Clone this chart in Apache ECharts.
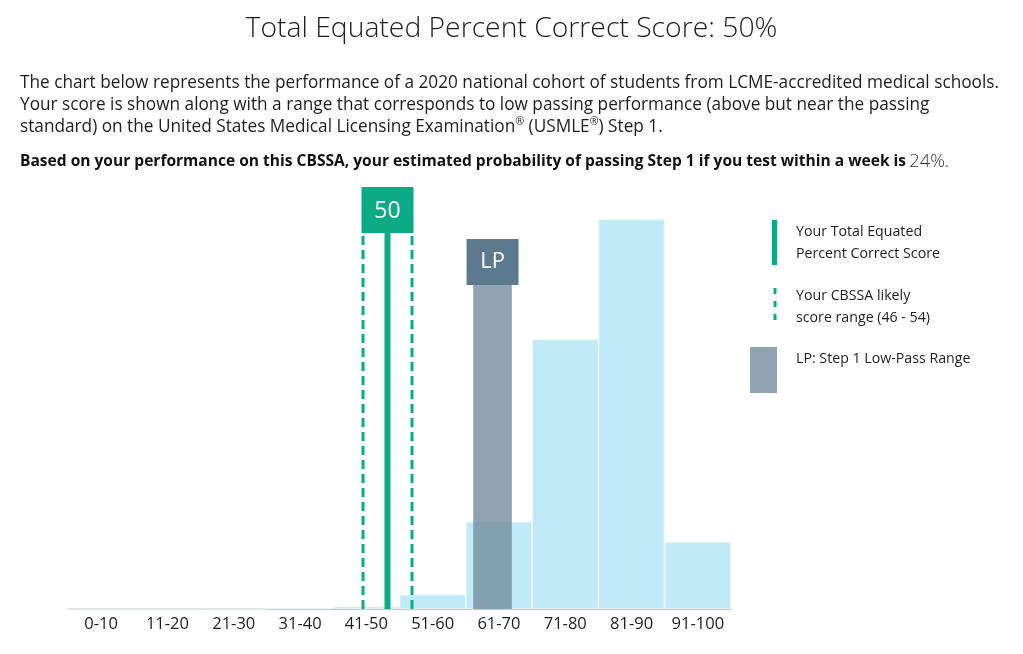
<!DOCTYPE html>
<html>
<head>
<meta charset="utf-8">
<script src="https://cdn.jsdelivr.net/npm/echarts@6/dist/echarts.min.js"></script>
<style>
html,body{margin:0;padding:0;background:#fff;}
#chart{width:1023px;height:654px;}
</style>
</head>
<body>
<div id="chart"></div>
<script>
// ---- data ----
const categories = ['0-10','11-20','21-30','31-40','41-50','51-60','61-70','71-80','81-90','91-100'];
const cohortPercent = [0, 0, 0, 0.1, 0.3, 1.7, 10.4, 32.1, 46.4, 8.0];
const yourScore = 50;
const scoreRange = [46, 54];
const lowPassRange = [64, 70.3];
const titleText = 'Total Equated Percent Correct Score: 50%';
const bodyLines = [
  'The chart below represents the performance of a 2020 national cohort of students from LCME-accredited medical schools.',
  'Your score is shown along with a range that corresponds to low passing performance (above but near the passing',
  'standard) on the United States Medical Licensing Examination\u00AE (USMLE\u00AE) Step 1.'
];
const boldText = 'Based on your performance on this CBSSA, your estimated probability of passing Step 1 if you test within a week is';
const probText = '24%.';
const legendTexts = [
  ['Your Total Equated', 'Percent Correct Score'],
  ['Your CBSSA likely', 'score range (46 - 54)'],
  ['LP: Step 1 Low-Pass Range']
];

// ---- styling ----
const FONT = 'Open Sans';
const GREEN = '#0cab86';
const BAR = '#c1eaf8';
const LPBOX = '#5c7a8e';
const TEXT = '#1e1e1e';

const mctx = document.createElement('canvas').getContext('2d');
function fit(text, weight, target) {
  mctx.font = weight + ' 100px "' + FONT + '"';
  return 100 * target / mctx.measureText(text).width;
}
const titleSize = fit(titleText, '300', 532);
const bodySize = fit(bodyLines[0], 'normal', 980);
const boldSize = fit(boldText, 'bold', 887);
const legendSize = fit(legendTexts[0][1], 'normal', 144);

const chart = echarts.init(document.getElementById('chart'));

// turn ® into a small raised token
function richLine(t) {
  return t.split('\u00AE').map(p => '{r|' + p + '}').join('{s|\u00AE}');
}

const graphic = [
  {type:'text', left:'center', top:35 - titleSize*0.7, style:{text:titleText, fontFamily:FONT, fontWeight:300, fontSize:titleSize, fill:TEXT}},
];
bodyLines.forEach((t, i) => {
  graphic.push({type:'text', x:20, y:83 + i*22, style:{
    text:richLine(t), verticalAlign:'middle',
    rich:{
      r:{fontFamily:FONT, fontSize:bodySize, fill:TEXT, lineHeight:22, verticalAlign:'middle'},
      s:{fontFamily:FONT, fontSize:bodySize*0.62, fill:TEXT, lineHeight:22, verticalAlign:'top'}
    }
  }});
});
graphic.push({type:'text', x:20, y:162, style:{
  text:'{b|' + boldText + '} {n|' + probText + '}',
  verticalAlign:'middle',
  rich:{
    b:{fontFamily:FONT, fontWeight:'bold', fontSize:boldSize, fill:'#111'},
    n:{fontFamily:FONT, fontWeight:300, fontSize:bodySize+1, fill:'#333'}
  }
}});
// legend
graphic.push({type:'rect', shape:{x:772, y:220, width:5, height:45}, style:{fill:GREEN}});
graphic.push({type:'line', shape:{x1:775, y1:288, x2:775, y2:325}, style:{stroke:GREEN, lineWidth:3, lineDash:[6,7]}});
graphic.push({type:'rect', shape:{x:750, y:347, width:27, height:46}, style:{fill:'#8fa3b2'}});
const legendY = [[232, 254], [296, 318], [359]];
legendTexts.forEach((lines, i) => {
  lines.forEach((t, j) => {
    graphic.push({type:'text', x:796, y:legendY[i][j], style:{text:t, fontFamily:FONT, fontSize:legendSize, fill:TEXT, verticalAlign:'middle'}});
  });
});

const option = {
  animation:false,
  backgroundColor:'#fff',
  grid:{left:68, right:292, top:189, bottom:45},
  xAxis:[
    {type:'category', data:categories,
     axisLine:{lineStyle:{color:'#b4b4b4', width:1.5}},
     axisTick:{show:false},
     axisLabel:{color:TEXT, fontSize:16.5, fontFamily:FONT, margin:7, interval:0}},
    {type:'value', min:-2.16, max:106.08, show:false}
  ],
  yAxis:{type:'value', min:0, max:50, show:false},
  series:[
    {type:'bar', data:cohortPercent, barCategoryGap:'0%', xAxisIndex:0,
     itemStyle:{color:BAR, borderColor:'#eef9fd', borderWidth:0.8}, z:1},
    {type:'custom', xAxisIndex:1, yAxisIndex:0, z:3, data:[lowPassRange],
     renderItem:function(params, api){
       const top = params.coordSys.y;
       const lo = api.coord([api.value(0), 0]);
       const hi = api.coord([api.value(1), 0]);
       const mid = (lo[0] + hi[0]) / 2;
       return {type:'group', children:[
         {type:'rect', shape:{x:lo[0], y:top+96, width:hi[0]-lo[0], height:lo[1]-(top+96)}, style:{fill:'rgba(115,140,159,0.8)'}},
         {type:'rect', shape:{x:mid-26, y:top+50, width:52, height:46}, style:{fill:LPBOX}},
         {type:'text', style:{text:'LP', x:mid, y:top+73, align:'center', verticalAlign:'middle', fill:'#fff', fontSize:22, fontFamily:FONT}}
       ]};
     }},
    {type:'custom', xAxisIndex:1, yAxisIndex:0, z:4, data:[[yourScore, scoreRange[0], scoreRange[1]]],
     renderItem:function(params, api){
       const top = params.coordSys.y;
       const s = api.coord([api.value(0), 0]);
       const l = api.coord([api.value(1), 0]);
       const h = api.coord([api.value(2), 0]);
       const base = s[1];
       return {type:'group', children:[
         {type:'line', shape:{x1:l[0], y1:top+47, x2:l[0], y2:base}, style:{stroke:GREEN, lineWidth:3, lineDash:[9,5]}},
         {type:'line', shape:{x1:h[0], y1:top+47, x2:h[0], y2:base}, style:{stroke:GREEN, lineWidth:3, lineDash:[9,5]}},
         {type:'line', shape:{x1:s[0], y1:top+44, x2:s[0], y2:base}, style:{stroke:GREEN, lineWidth:6}},
         {type:'rect', shape:{x:s[0]-26, y:top-2, width:52, height:46}, style:{fill:GREEN}},
         {type:'text', style:{text:String(api.value(0)), x:s[0], y:top+22, align:'center', verticalAlign:'middle', fill:'#fff', fontSize:23, fontFamily:FONT}}
       ]};
     }}
  ],
  graphic:graphic
};
chart.setOption(option);
</script>
</body>
</html>
